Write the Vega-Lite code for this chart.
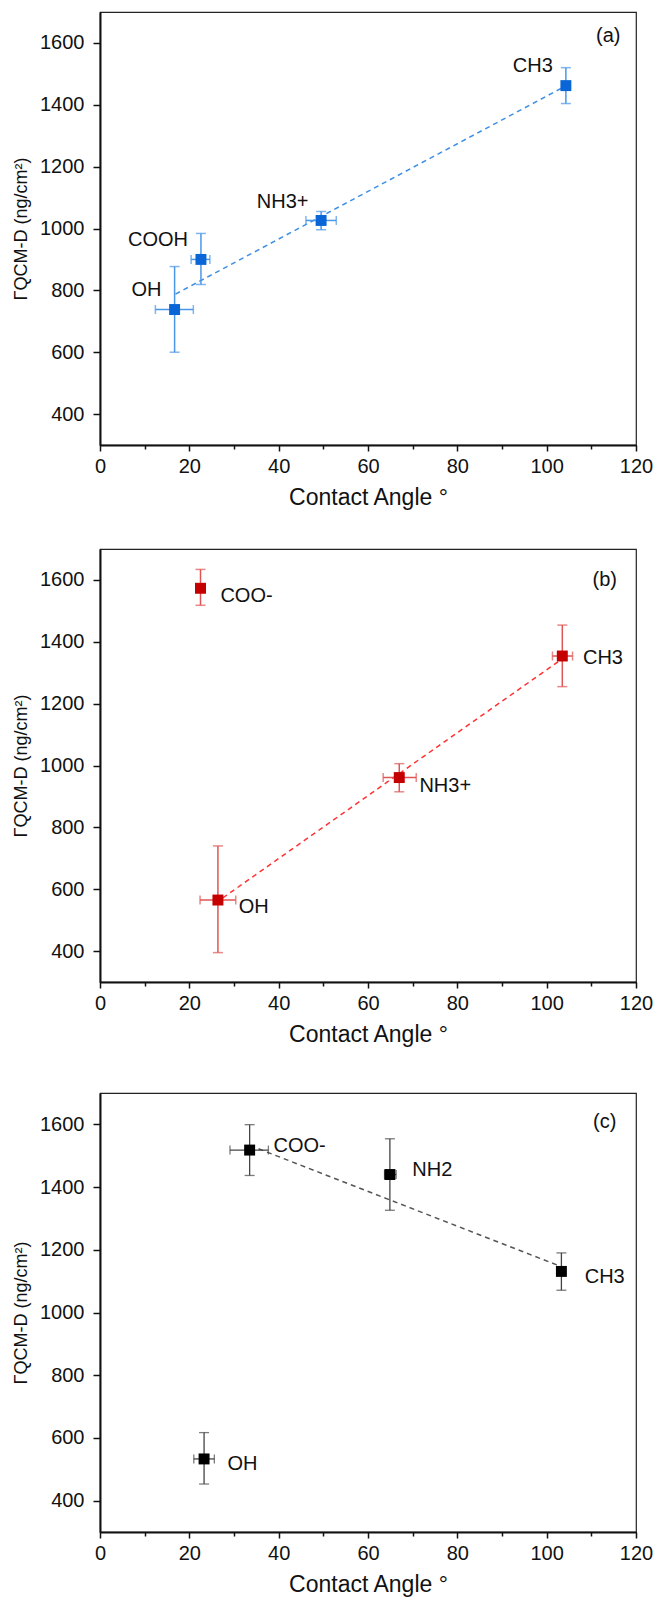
{
  "$schema": "https://vega.github.io/schema/vega-lite/v6.json",
  "padding": {"left": 11, "top": 11, "right": 4, "bottom": 4},
  "background": "white",
  "spacing": 104,
  "bounds": "flush",
  "datasets": {
    "a": [
      {"label": "OH", "x": 16.7, "y": 738, "xlo": 12.4, "xhi": 20.9, "ylo": 600, "yhi": 877, "lx": 10.4, "ly": 800},
      {"label": "COOH", "x": 22.6, "y": 900, "xlo": 20.4, "xhi": 24.6, "ylo": 819, "yhi": 984, "lx": 13.0, "ly": 962},
      {"label": "NH3+", "x": 49.5, "y": 1026, "xlo": 46.1, "xhi": 52.9, "ylo": 996, "yhi": 1055, "lx": 40.9, "ly": 1086},
      {"label": "CH3", "x": 104.3, "y": 1462, "xlo": 104.3, "xhi": 104.3, "ylo": 1404, "yhi": 1520, "lx": 96.9, "ly": 1525}
    ],
    "aline": [{"x": 16.9, "y": 788}, {"x": 103.5, "y": 1455}],
    "aletter": [{"t": "(a)", "lx": 113.8, "ly": 1621}],
    "b": [
      {"label": "COO-", "x": 22.5, "y": 1573, "xlo": 22.5, "xhi": 22.5, "ylo": 1518, "yhi": 1634, "lx": 32.8, "ly": 1549},
      {"label": "OH", "x": 26.4, "y": 565, "xlo": 22.4, "xhi": 30.4, "ylo": 395, "yhi": 740, "lx": 34.4, "ly": 542},
      {"label": "NH3+", "x": 67.0, "y": 961, "xlo": 63.4, "xhi": 70.8, "ylo": 915, "yhi": 1006, "lx": 77.3, "ly": 935},
      {"label": "CH3", "x": 103.5, "y": 1354, "xlo": 101.3, "xhi": 105.8, "ylo": 1255, "yhi": 1454, "lx": 112.6, "ly": 1346}
    ],
    "bline": [{"x": 27.5, "y": 572}, {"x": 103, "y": 1340}],
    "bletter": [{"t": "(b)", "lx": 113.0, "ly": 1600}],
    "c": [
      {"label": "COO-", "x": 33.5, "y": 1518, "xlo": 29.1, "xhi": 37.7, "ylo": 1437, "yhi": 1599, "lx": 44.7, "ly": 1532},
      {"label": "NH2", "x": 64.9, "y": 1440, "xlo": 63.7, "xhi": 66.3, "ylo": 1326, "yhi": 1554, "lx": 74.4, "ly": 1456},
      {"label": "CH3", "x": 103.3, "y": 1131, "xlo": 102.5, "xhi": 104.1, "ylo": 1071, "yhi": 1190, "lx": 113.0, "ly": 1113},
      {"label": "OH", "x": 23.3, "y": 533, "xlo": 21.0, "xhi": 25.6, "ylo": 453, "yhi": 617, "lx": 31.9, "ly": 516}
    ],
    "cline": [{"x": 35.5, "y": 1522}, {"x": 102.6, "y": 1150}],
    "cletter": [{"t": "(c)", "lx": 113.0, "ly": 1607}]
  },
  "vconcat": [
    {
      "width": 536, "height": 433,
      "data": {"name": "a"},
      "layer": [
        {"data": {"name": "aline"}, "mark": {"type": "line", "strokeDash": [5, 4], "strokeWidth": 1.5, "color": "#3d8fe6"},
          "encoding": {
            "x": {"field": "x", "type": "quantitative", "scale": {"domain": [0, 120], "nice": false, "zero": false},
              "axis": {"title": "Contact Angle °", "values": [0,5,10,15,20,25,30,35,40,45,50,55,60,65,70,75,80,85,90,95,100,105,110,115,120], "labelExpr": "datum.value % 20 === 0 ? datum.label : ''", "tickSize": {"condition": {"test": "datum.value % 20 === 0", "value": 6}, "value": 4}}},
            "y": {"field": "y", "type": "quantitative", "scale": {"domain": [300, 1700], "nice": false, "zero": false},
              "axis": {"title": "ΓQCM-D (ng/cm²)", "values": [400,500,600,700,800,900,1000,1100,1200,1300,1400,1500,1600], "format": "d", "labelExpr": "datum.value % 200 === 0 ? datum.label : ''", "tickSize": {"condition": {"test": "datum.value % 200 === 0", "value": 7}, "value": 4}}}
          }},
        {"mark": {"type": "rule", "color": "#4a97e8", "strokeWidth": 1.5},
          "encoding": {"x": {"field": "x", "type": "quantitative"}, "y": {"field": "ylo", "type": "quantitative"}, "y2": {"field": "yhi"}}},
        {"mark": {"type": "rule", "color": "#4a97e8", "strokeWidth": 1.5},
          "encoding": {"y": {"field": "y", "type": "quantitative"}, "x": {"field": "xlo", "type": "quantitative"}, "x2": {"field": "xhi"}}},
        {"mark": {"type": "tick", "orient": "horizontal", "size": 10, "thickness": 1.5, "color": "#4a97e8"},
          "encoding": {"x": {"field": "x", "type": "quantitative"}, "y": {"field": "ylo", "type": "quantitative"}}},
        {"mark": {"type": "tick", "orient": "horizontal", "size": 10, "thickness": 1.5, "color": "#4a97e8"},
          "encoding": {"x": {"field": "x", "type": "quantitative"}, "y": {"field": "yhi", "type": "quantitative"}}},
        {"mark": {"type": "tick", "orient": "vertical", "size": 9, "thickness": 1.5, "color": "#4a97e8"},
          "encoding": {"x": {"field": "xlo", "type": "quantitative"}, "y": {"field": "y", "type": "quantitative"}}},
        {"mark": {"type": "tick", "orient": "vertical", "size": 9, "thickness": 1.5, "color": "#4a97e8"},
          "encoding": {"x": {"field": "xhi", "type": "quantitative"}, "y": {"field": "y", "type": "quantitative"}}},
        {"mark": {"type": "point", "shape": "square", "filled": true, "size": 120, "color": "#0a66d6", "opacity": 1},
          "encoding": {"x": {"field": "x", "type": "quantitative"}, "y": {"field": "y", "type": "quantitative"}}},
        {"mark": {"type": "text", "font": "Liberation Sans", "fontSize": 20, "color": "#111", "align": "center", "baseline": "middle"},
          "encoding": {"x": {"field": "lx", "type": "quantitative"}, "y": {"field": "ly", "type": "quantitative"}, "text": {"field": "label"}}},
        {"data": {"name": "aletter"}, "mark": {"type": "text", "font": "Liberation Sans", "fontSize": 20, "color": "#111", "align": "center", "baseline": "middle"},
          "encoding": {"x": {"field": "lx", "type": "quantitative"}, "y": {"field": "ly", "type": "quantitative"}, "text": {"field": "t"}}}
      ]
    },
    {
      "spacing": 111,
      "bounds": "flush",
      "vconcat": [
        {
          "width": 536, "height": 433,
          "data": {"name": "b"},
          "layer": [
            {"data": {"name": "bline"}, "mark": {"type": "line", "strokeDash": [5, 4], "strokeWidth": 1.5, "color": "#ff3333"},
              "encoding": {
                "x": {"field": "x", "type": "quantitative", "scale": {"domain": [0, 120], "nice": false, "zero": false},
                  "axis": {"title": "Contact Angle °", "values": [0,5,10,15,20,25,30,35,40,45,50,55,60,65,70,75,80,85,90,95,100,105,110,115,120], "labelExpr": "datum.value % 20 === 0 ? datum.label : ''", "tickSize": {"condition": {"test": "datum.value % 20 === 0", "value": 6}, "value": 4}}},
                "y": {"field": "y", "type": "quantitative", "scale": {"domain": [300, 1700], "nice": false, "zero": false},
                  "axis": {"title": "ΓQCM-D (ng/cm²)", "values": [400,500,600,700,800,900,1000,1100,1200,1300,1400,1500,1600], "format": "d", "labelExpr": "datum.value % 200 === 0 ? datum.label : ''", "tickSize": {"condition": {"test": "datum.value % 200 === 0", "value": 7}, "value": 4}}}
              }},
            {"mark": {"type": "rule", "color": "#e05555", "strokeWidth": 1.5},
              "encoding": {"x": {"field": "x", "type": "quantitative"}, "y": {"field": "ylo", "type": "quantitative"}, "y2": {"field": "yhi"}}},
            {"mark": {"type": "rule", "color": "#e05555", "strokeWidth": 1.5},
              "encoding": {"y": {"field": "y", "type": "quantitative"}, "x": {"field": "xlo", "type": "quantitative"}, "x2": {"field": "xhi"}}},
            {"mark": {"type": "tick", "orient": "horizontal", "size": 10, "thickness": 1.5, "color": "#e05555"},
              "encoding": {"x": {"field": "x", "type": "quantitative"}, "y": {"field": "ylo", "type": "quantitative"}}},
            {"mark": {"type": "tick", "orient": "horizontal", "size": 10, "thickness": 1.5, "color": "#e05555"},
              "encoding": {"x": {"field": "x", "type": "quantitative"}, "y": {"field": "yhi", "type": "quantitative"}}},
            {"mark": {"type": "tick", "orient": "vertical", "size": 9, "thickness": 1.5, "color": "#e05555"},
              "encoding": {"x": {"field": "xlo", "type": "quantitative"}, "y": {"field": "y", "type": "quantitative"}}},
            {"mark": {"type": "tick", "orient": "vertical", "size": 9, "thickness": 1.5, "color": "#e05555"},
              "encoding": {"x": {"field": "xhi", "type": "quantitative"}, "y": {"field": "y", "type": "quantitative"}}},
            {"mark": {"type": "point", "shape": "square", "filled": true, "size": 120, "color": "#c40000", "opacity": 1},
              "encoding": {"x": {"field": "x", "type": "quantitative"}, "y": {"field": "y", "type": "quantitative"}}},
            {"mark": {"type": "text", "font": "Liberation Sans", "fontSize": 20, "color": "#111", "align": "center", "baseline": "middle"},
              "encoding": {"x": {"field": "lx", "type": "quantitative"}, "y": {"field": "ly", "type": "quantitative"}, "text": {"field": "label"}}},
            {"data": {"name": "bletter"}, "mark": {"type": "text", "font": "Liberation Sans", "fontSize": 20, "color": "#111", "align": "center", "baseline": "middle"},
              "encoding": {"x": {"field": "lx", "type": "quantitative"}, "y": {"field": "ly", "type": "quantitative"}, "text": {"field": "t"}}}
          ]
        },
        {
          "width": 536, "height": 439,
          "data": {"name": "c"},
          "layer": [
            {"data": {"name": "cline"}, "mark": {"type": "line", "strokeDash": [5, 4], "strokeWidth": 1.5, "color": "#555555"},
              "encoding": {
                "x": {"field": "x", "type": "quantitative", "scale": {"domain": [0, 120], "nice": false, "zero": false},
                  "axis": {"title": "Contact Angle °", "values": [0,5,10,15,20,25,30,35,40,45,50,55,60,65,70,75,80,85,90,95,100,105,110,115,120], "labelExpr": "datum.value % 20 === 0 ? datum.label : ''", "tickSize": {"condition": {"test": "datum.value % 20 === 0", "value": 6}, "value": 4}}},
                "y": {"field": "y", "type": "quantitative", "scale": {"domain": [300, 1700], "nice": false, "zero": false},
                  "axis": {"title": "ΓQCM-D (ng/cm²)", "values": [400,500,600,700,800,900,1000,1100,1200,1300,1400,1500,1600], "format": "d", "labelExpr": "datum.value % 200 === 0 ? datum.label : ''", "tickSize": {"condition": {"test": "datum.value % 200 === 0", "value": 7}, "value": 4}}}
              }},
            {"mark": {"type": "rule", "color": "#444444", "strokeWidth": 1.3},
              "encoding": {"x": {"field": "x", "type": "quantitative"}, "y": {"field": "ylo", "type": "quantitative"}, "y2": {"field": "yhi"}}},
            {"mark": {"type": "rule", "color": "#444444", "strokeWidth": 1.3},
              "encoding": {"y": {"field": "y", "type": "quantitative"}, "x": {"field": "xlo", "type": "quantitative"}, "x2": {"field": "xhi"}}},
            {"mark": {"type": "tick", "orient": "horizontal", "size": 10, "thickness": 1.3, "color": "#444444"},
              "encoding": {"x": {"field": "x", "type": "quantitative"}, "y": {"field": "ylo", "type": "quantitative"}}},
            {"mark": {"type": "tick", "orient": "horizontal", "size": 10, "thickness": 1.3, "color": "#444444"},
              "encoding": {"x": {"field": "x", "type": "quantitative"}, "y": {"field": "yhi", "type": "quantitative"}}},
            {"mark": {"type": "tick", "orient": "vertical", "size": 9, "thickness": 1.3, "color": "#444444"},
              "encoding": {"x": {"field": "xlo", "type": "quantitative"}, "y": {"field": "y", "type": "quantitative"}}},
            {"mark": {"type": "tick", "orient": "vertical", "size": 9, "thickness": 1.3, "color": "#444444"},
              "encoding": {"x": {"field": "xhi", "type": "quantitative"}, "y": {"field": "y", "type": "quantitative"}}},
            {"mark": {"type": "point", "shape": "square", "filled": true, "size": 120, "color": "#000000", "opacity": 1},
              "encoding": {"x": {"field": "x", "type": "quantitative"}, "y": {"field": "y", "type": "quantitative"}}},
            {"mark": {"type": "text", "font": "Liberation Sans", "fontSize": 20, "color": "#111", "align": "center", "baseline": "middle"},
              "encoding": {"x": {"field": "lx", "type": "quantitative"}, "y": {"field": "ly", "type": "quantitative"}, "text": {"field": "label"}}},
            {"data": {"name": "cletter"}, "mark": {"type": "text", "font": "Liberation Sans", "fontSize": 20, "color": "#111", "align": "center", "baseline": "middle"},
              "encoding": {"x": {"field": "lx", "type": "quantitative"}, "y": {"field": "ly", "type": "quantitative"}, "text": {"field": "t"}}}
          ]
        }
      ]
    }
  ],
  "config": {
    "view": {"stroke": "#222", "strokeWidth": 1.2},
    "axis": {
      "grid": false,
      "domainColor": "#111", "domainWidth": 2,
      "tickColor": "#111", "tickWidth": 1.5,
      "labelFont": "Liberation Sans", "labelFontSize": 20, "labelColor": "#111",
      "labelOverlap": false,
      "titleFont": "Liberation Sans", "titleFontWeight": "normal", "titleColor": "#111"
    },
    "axisX": {"labelPadding": 5, "titleFontSize": 23, "titlePadding": 10, "labelFlush": false},
    "axisY": {"labelPadding": 9, "titleFontSize": 18, "titlePadding": 9, "labelBaseline": "middle"}
  }
}
